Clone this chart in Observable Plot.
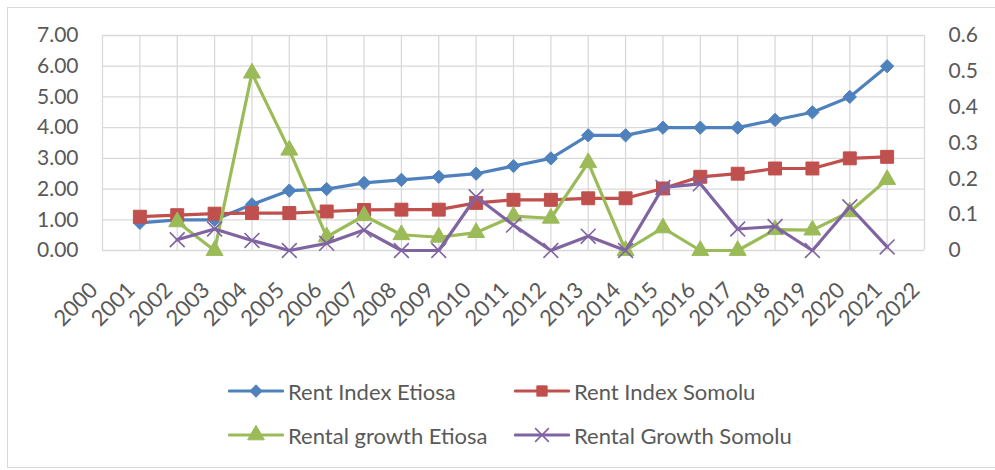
<!DOCTYPE html>
<html><head><meta charset="utf-8">
<script src="https://cdn.jsdelivr.net/npm/d3@7"></script>
<script src="https://cdn.jsdelivr.net/npm/@observablehq/plot@0.6"></script>
<style>
body{margin:0;background:#fff;font-family:Lato,sans-serif;width:995px;height:470px;overflow:hidden;position:relative;}
#frame{position:absolute;left:7px;top:7px;width:1000px;height:461px;border:1px solid #d9d9d9;box-sizing:border-box;}
#chart{position:absolute;left:0;top:0;}
.item{position:absolute;display:flex;align-items:center;font-size:22px;color:#595959;white-space:nowrap;height:26px;}
.item svg{margin-right:4px;}
</style></head><body>
<div id="frame"></div><div id="chart"></div><div id="legend"></div>
<script>
// ---- data ----
const years = d3.range(2001, 2022);          // 2001..2021
const growthYears = d3.range(2002, 2022);    // 2002..2021
const yearTicks = d3.range(2000, 2023);      // x labels 2000..2022
const leftTicks = [0, 1, 2, 3, 4, 5, 6, 7];
const rightTicks = [0, 0.1, 0.2, 0.3, 0.4, 0.5, 0.6];

const rentIndexEtiosa = [0.9, 1.0, 1.0, 1.5, 1.95, 2.0, 2.2, 2.3, 2.4, 2.5, 2.75, 3.0, 3.75, 3.75, 4.0, 4.0, 4.0, 4.25, 4.5, 5.0, 6.0];
const rentIndexSomolu = [1.1, 1.15, 1.2, 1.22, 1.22, 1.27, 1.32, 1.33, 1.33, 1.55, 1.65, 1.65, 1.7, 1.7, 2.02, 2.4, 2.5, 2.67, 2.67, 3.0, 3.05];
const rentalGrowthEtiosa = [0.08, 0.0, 0.495, 0.28, 0.038, 0.097, 0.044, 0.037, 0.05, 0.096, 0.09, 0.245, 0.0, 0.063, 0.0, 0.0, 0.058, 0.057, 0.108, 0.198];
const rentalGrowthSomolu = [0.03, 0.06, 0.028, 0.0, 0.02, 0.057, 0.0, 0.0, 0.15, 0.071, 0.0, 0.04, 0.0, 0.176, 0.186, 0.06, 0.067, 0.0, 0.122, 0.01];

const seriesNames = ["Rent Index Etiosa", "Rent Index Somolu", "Rental growth Etiosa", "Rental Growth Somolu"];
const colors = ["#4F81BD", "#C0504D", "#9BBB59", "#8064A2"];
const symbols = ["diamond2", "square", "triangle", "times"];

// secondary axis (0..0.6) mapped onto primary (0..7)
const k = 7 / 0.6;

const rows0 = years.map((yr, i) => ({year: yr, v: rentIndexEtiosa[i]}));
const rows1 = years.map((yr, i) => ({year: yr, v: rentIndexSomolu[i]}));
const rows2 = growthYears.map((yr, i) => ({year: yr, v: rentalGrowthEtiosa[i] * k}));
const rows3 = growthYears.map((yr, i) => ({year: yr, v: rentalGrowthSomolu[i] * k}));
const allRows = [rows0, rows1, rows2, rows3];
const rSizes = [6, 7.3, 6.3, 6.8];

const seriesMarks = allRows.flatMap((rows, s) => [
  Plot.line(rows, {x: "year", y: "v", stroke: colors[s], strokeWidth: 3.2, strokeLinejoin: "round", strokeLinecap: "round"}),
  Plot.dot(rows, {x: "year", y: "v", symbol: symbols[s], r: rSizes[s],
    fill: s === 3 ? "none" : colors[s], stroke: colors[s], strokeWidth: s === 3 ? 1.6 : 1})
]);

const txt = "#595959";
const chart = Plot.plot({
  width: 995, height: 350,
  marginLeft: 102, marginRight: 71, marginTop: 35, marginBottom: 100,
  x: {domain: [2000, 2022], axis: null},
  y: {domain: [0, 7], axis: null, label: null},
  style: {fontFamily: "Lato, sans-serif", fontSize: "21px", color: txt, background: "transparent", overflow: "visible"},
  marks: [
    Plot.gridX(yearTicks, {stroke: "#d9d9d9", strokeOpacity: 1, strokeWidth: 1.3}),
    Plot.gridY(leftTicks, {stroke: "#d9d9d9", strokeOpacity: 1, strokeWidth: 1.3}),
    Plot.axisY(leftTicks, {anchor: "left", tickSize: 0, tickPadding: 24, label: null,
      tickFormat: d => d.toFixed(2), fill: txt, fontSize: 21}),
    Plot.axisY(rightTicks.map(v => v * k), {anchor: "right", tickSize: 0, tickPadding: 24, label: null,
      tickFormat: d => String(+(d / k).toFixed(1)), fill: txt, fontSize: 21}),
    Plot.text(yearTicks, {x: d => d, frameAnchor: "bottom", dy: 41, dx: -3.5, rotate: -45,
      textAnchor: "end", text: d => String(d), fill: txt, fontSize: 22}),
    ...seriesMarks
  ]
});
document.getElementById("chart").appendChild(chart);

// ---- legend ----
const legendPos = [[228, 391], [514, 391], [228, 435], [514, 435]];
const legend = d3.select("#legend");
seriesNames.forEach((name, s) => {
  const item = legend.append("div").attr("class", "item")
    .style("left", legendPos[s][0] + "px").style("top", (legendPos[s][1] - 13) + "px");
  const svg = item.append("svg").attr("width", 56).attr("height", 26);
  svg.append("line").attr("x1", 1.5).attr("x2", 54.5).attr("y1", 13).attr("y2", 13)
    .attr("stroke", colors[s]).attr("stroke-width", 3.2).attr("stroke-linecap", "round");
  const symType = [d3.symbolDiamond2, d3.symbolSquare, d3.symbolTriangle, d3.symbolTimes][s];
  const rr = [5.6, 5.8, 6.2, 6.3][s];
  svg.append("path").attr("transform", "translate(28,13)")
    .attr("d", d3.symbol(symType, Math.PI * rr * rr)())
    .attr("fill", s === 3 ? "none" : colors[s]).attr("stroke", colors[s]).attr("stroke-width", s === 3 ? 1.6 : 1);
  item.append("span").text(name);
});
</script>
</body></html>
